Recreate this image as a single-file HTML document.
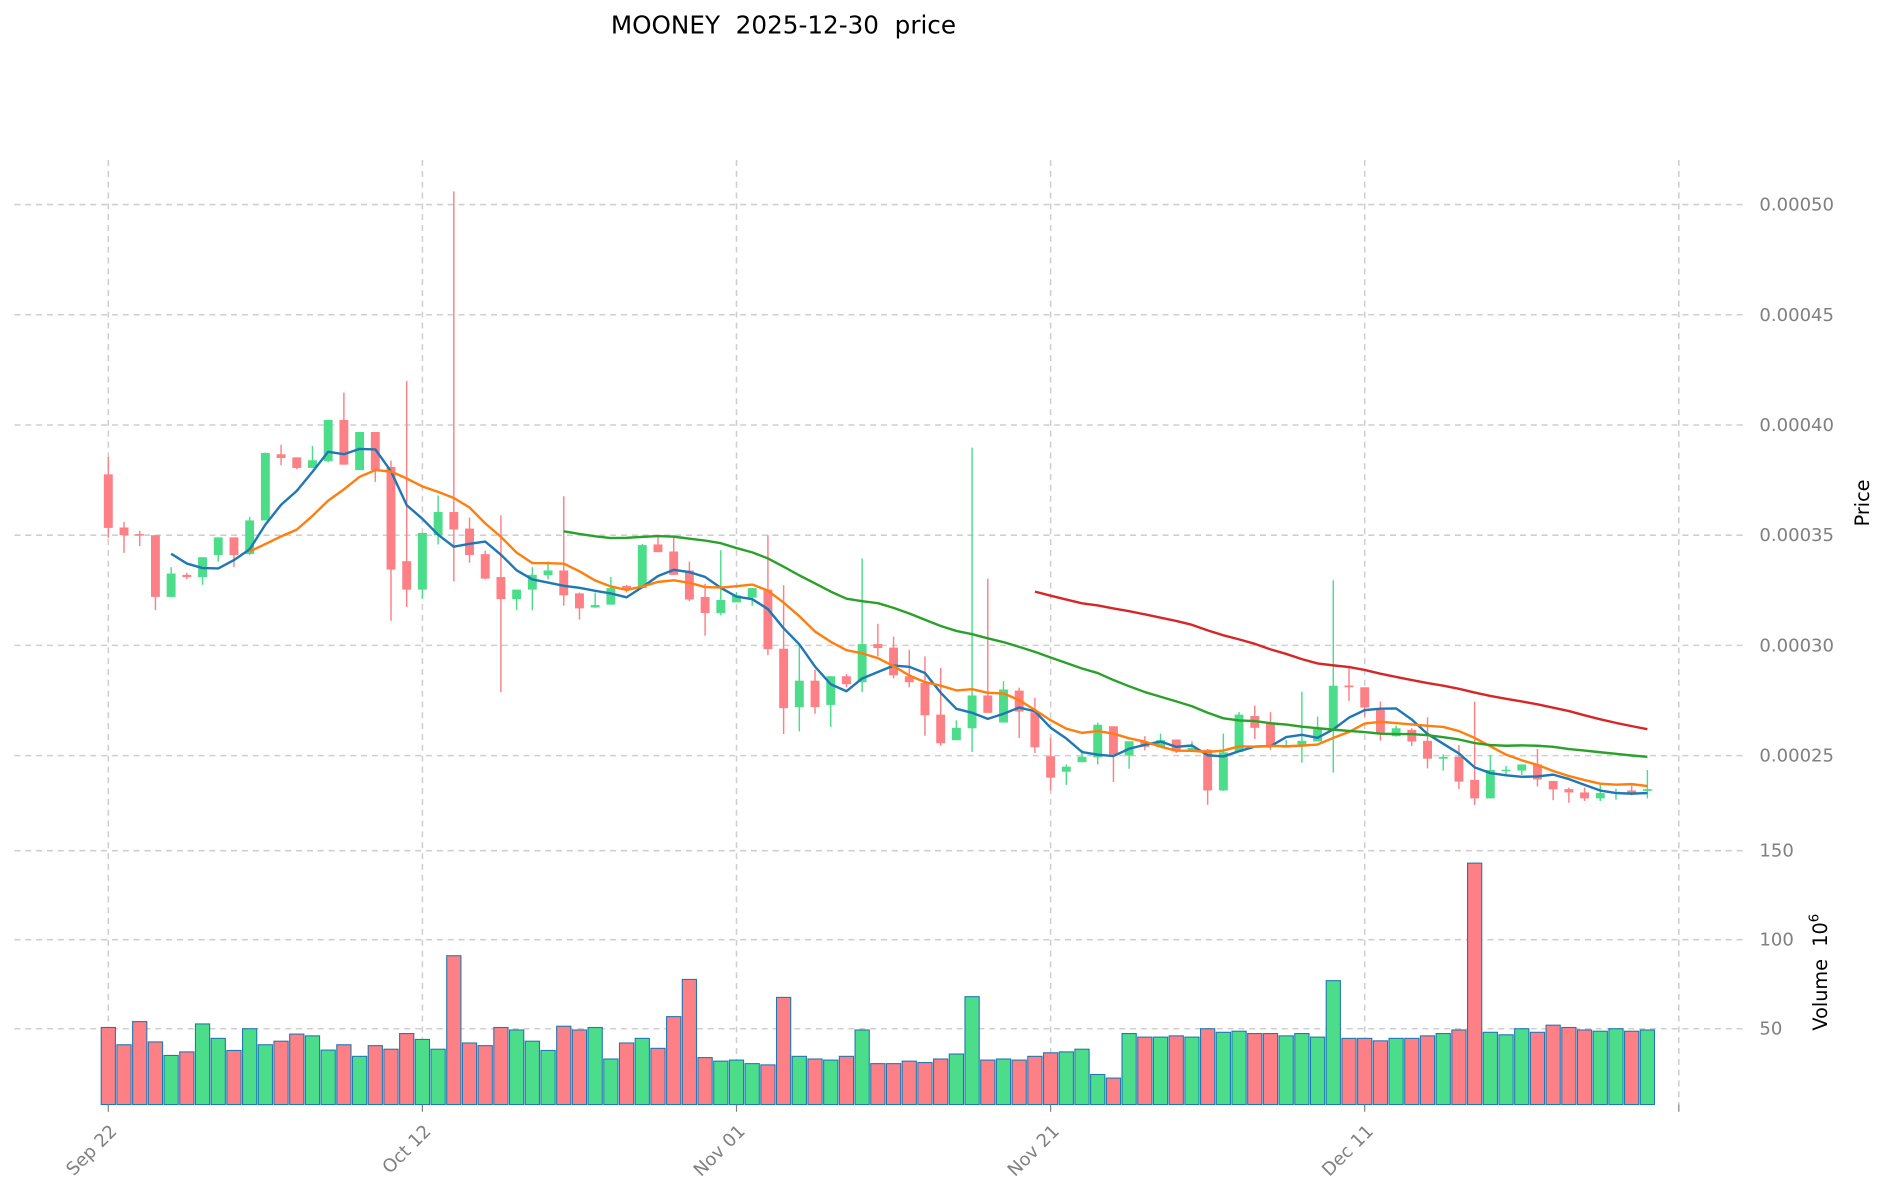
<!DOCTYPE html>
<html><head><meta charset="utf-8"><style>
html,body{margin:0;padding:0;background:#fff;}
svg{display:block;font-family:"DejaVu Sans","Liberation Sans",sans-serif;}
.pre{white-space:pre;}
</style></head><body>
<svg id="chart" width="1887" height="1202" viewBox="0 0 1568 999" preserveAspectRatio="none" xmlns="http://www.w3.org/2000/svg">
<text class="pre" x="651" y="28" text-anchor="middle" font-size="20.5" fill="#000" xml:space="preserve">MOONEY  2025-12-30  price</text>
<g id="grid"></g>
<g id="vol"></g>
<g id="candles"></g>
<g id="mas"></g>
<g id="axes"></g>
<text x="1553" y="418" text-anchor="middle" font-size="16" fill="#000" transform="rotate(-90 1553 418)">Price</text>
<text class="pre" x="1518" y="808" text-anchor="middle" font-size="16" fill="#000" transform="rotate(-90 1518 808)" xml:space="preserve">Volume  10<tspan font-size="11" dy="-7">6</tspan></text>
</svg>
<script>
const opens  = [37.76,35.35,35.05,35.0,32.2,33.2,33.1,34.1,34.9,34.15,35.67,38.67,38.53,38.05,38.36,40.23,37.95,39.68,38.1,33.82,32.53,35.0,36.05,35.3,34.14,33.1,32.1,32.53,33.18,33.4,32.36,31.72,31.85,32.7,32.6,34.58,34.26,33.4,32.2,31.47,31.95,32.17,32.53,29.85,27.2,28.4,27.3,28.6,28.33,30.06,29.9,28.6,28.3,26.86,25.7,26.24,27.73,26.5,27.95,26.97,24.97,24.27,24.7,24.92,26.33,25.0,25.62,25.4,25.73,25.2,25.27,23.42,25.17,26.8,26.44,25.36,25.48,25.64,26.24,28.18,28.1,27.08,25.88,26.17,25.67,24.86,24.95,23.9,23.06,24.3,24.32,24.6,23.85,23.48,23.33,23.06,23.3,23.42,23.4];
const highs  = [38.55,35.6,35.2,35.0,33.55,33.3,34.0,34.9,34.9,35.83,38.75,39.1,38.53,39.05,40.23,41.47,39.68,39.68,38.38,42.0,35.1,36.8,50.6,35.8,34.3,35.9,32.53,33.55,33.8,36.77,32.4,32.4,33.1,32.75,34.6,34.95,35.0,33.8,32.8,34.32,32.42,32.6,35.0,32.73,30.05,28.9,28.6,28.7,33.94,30.98,30.4,29.8,29.5,28.98,26.6,38.97,33.03,28.38,28.08,27.62,25.8,24.6,25.27,26.5,26.33,25.65,25.88,26.0,25.73,25.65,25.3,26.0,26.97,27.27,26.97,25.7,27.9,26.77,32.95,29.05,28.1,27.45,26.36,26.24,26.74,25.06,25.48,27.45,25.03,24.53,24.6,25.3,23.85,23.55,23.55,23.67,23.5,23.64,24.35];
const lows   = [34.88,34.2,34.5,31.6,32.2,33.0,32.75,33.8,33.55,34.1,35.67,38.17,38.0,38.05,38.3,38.2,37.95,37.42,31.12,31.74,32.12,34.58,32.9,33.75,33.0,27.88,31.6,31.6,33.0,31.8,31.17,31.7,31.85,32.4,32.6,34.23,33.2,32.0,30.44,31.36,31.95,31.8,29.56,25.98,26.1,26.9,26.3,28.1,27.88,29.5,28.5,28.1,25.9,25.45,25.7,25.17,26.94,26.5,25.8,25.12,23.42,23.67,24.7,24.6,23.8,24.4,25.24,25.4,25.12,25.2,22.77,23.4,25.17,25.76,25.26,25.36,24.68,25.64,24.23,27.48,26.77,25.68,25.86,25.44,24.42,24.32,23.48,22.76,23.06,24.12,24.12,23.6,22.98,22.86,22.94,22.94,23.0,23.2,23.06];
const closes = [35.33,35.0,35.0,32.2,33.26,33.1,34.0,34.9,34.1,35.67,38.73,38.5,38.05,38.4,40.23,38.2,39.68,37.95,33.44,32.53,35.1,36.05,35.26,34.1,33.03,32.1,32.53,33.2,33.4,32.27,31.68,31.83,32.6,32.55,34.55,34.23,33.2,32.08,31.47,32.06,32.27,32.6,29.83,27.15,28.4,27.2,28.6,28.24,30.06,29.88,28.64,28.33,26.83,25.56,26.26,27.73,26.94,28.0,27.0,25.38,24.0,24.5,24.95,26.4,25.05,25.65,25.4,25.7,25.2,25.35,23.42,25.15,26.86,26.26,25.44,25.48,25.67,26.2,28.17,28.1,27.18,26.0,26.24,25.64,24.86,24.94,23.82,23.06,24.35,24.36,24.6,23.92,23.47,23.33,23.06,23.3,23.36,23.32,23.48];
const volumes = [50.7,41,54,42.6,35,37,52.7,44.6,37.8,50,41,43,47,46,38,41,34.5,40.5,38.5,47.3,44,38.5,91,42,40.5,50.7,49.3,43,37.8,51.4,49.3,50.7,33,42,44.6,39,56.8,77.7,33.8,31.8,32.4,30.4,29.7,67.6,34.5,33,32.4,34.5,49.3,30.4,30.4,31.8,31,33,35.8,68,32.4,33,32.4,34.5,36.5,37,38.5,24.3,22.3,47.3,45.3,45.3,46,45.3,50,48,48.6,47.3,47.3,46,47.3,45.3,77,44.6,44.6,43.2,44.6,44.6,46,47.3,49.3,143,48,46.6,50,48,52,50.7,49.3,48.6,50,48.6,49.3];
const priceTicks = [0.0005,0.00045,0.0004,0.00035,0.0003,0.00025];
const priceTickLabels = ["0.00050","0.00045","0.00040","0.00035","0.00030","0.00025"];
const volTicks = [150,100,50];
const dateTickDays = [0,20,40,60,80,100];
const dateTickLabels = ["Sep 22","Oct 12","Nov 01","Nov 21","Dec 11",""];
const maPeriods = [5,10,30,60];
const maColors = ["#1f77b4","#ff7f0e","#2ca02c","#d62728"];

const NS="http://www.w3.org/2000/svg";
const xOf = d => 90 + d*13.05;
const yP = p => 628 - (p - 25)*18.32;
const yV = v => 929 - v*74/50;
const UP="#4cdd8b", DN="#fc8086";
function mk(tag, attrs, parent){const e=document.createElementNS(NS,tag);for(const k in attrs)e.setAttribute(k,attrs[k]);parent.appendChild(e);return e;}
const grid=document.getElementById('grid'), vol=document.getElementById('vol'), cg=document.getElementById('candles'), mg=document.getElementById('mas'), ax=document.getElementById('axes');

priceTicks.forEach((t,i)=>{
  const y=yP(t*1e5);
  const l=mk('line',{x1:12,x2:1448,y1:y,y2:y,stroke:"#cfcfcf","stroke-width":1.3,"stroke-dasharray":"5,4"},grid);
  
  
  const tx=mk('text',{x:1462,y:y+5,"font-size":15,fill:"#808080"},ax);
  tx.textContent=priceTickLabels[i];
  
  
});
volTicks.forEach(t=>{
  const y=yV(t);
  const l=mk('line',{x1:12,x2:1448,y1:y,y2:y,stroke:"#cfcfcf","stroke-width":1.3,"stroke-dasharray":"5,4"},grid);
  
  
  const tx=mk('text',{x:1462,y:y+5,"font-size":15,fill:"#808080"},ax);
  tx.textContent=String(t);
  
  
});
dateTickDays.forEach((d,i)=>{
  const x=xOf(d);
  const l=mk('line',{x1:x,x2:x,y1:133,y2:918,stroke:"#cfcfcf","stroke-width":1.3,"stroke-dasharray":"5,4"},grid);
  
  
  const tk=mk('line',{x1:x,x2:x,y1:918,y2:924,stroke:"#808080","stroke-width":1},ax);
  
  
  if(dateTickLabels[i]){
    const tx=mk('text',{x:x+8,y:941,"font-size":15,fill:"#808080","text-anchor":"end",transform:`rotate(-45 ${x+8} 941)`},ax);
    tx.textContent=dateTickLabels[i];
    
    
  }
});

closes.forEach((c,i)=>{
  const o=opens[i], up=c>=o, col=up?UP:DN, x=xOf(i);
  const w=mk('line',{x1:x,x2:x,y1:yP(highs[i]),y2:yP(lows[i]),stroke:col,"stroke-width":1.2},cg);
  
  
  const top=yP(Math.max(o,c)), h=Math.max(1.2,Math.abs(yP(o)-yP(c)));
  const b=mk('rect',{x:x-3.7,y:top,width:7.4,height:h,fill:col},cg);
  
  
  const vy=yV(volumes[i]);
  const vb=mk('rect',{x:x-5.9,y:vy,width:11.8,height:918-vy,fill:col,stroke:"#1f77b4","stroke-width":0.9},vol);
  
  
});

maPeriods.forEach((p,k)=>{
  const pts=[];
  for(let i=p-1;i<closes.length;i++){
    let s=0;for(let j=i-p+1;j<=i;j++)s+=closes[j];
    pts.push(xOf(i).toFixed(1)+","+yP(s/p).toFixed(1));
  }
  const pl=mk('polyline',{points:pts.join(" "),fill:"none",stroke:maColors[k],"stroke-width":2,"stroke-linejoin":"round"},mg);
  
  
});
</script>
</body></html>
